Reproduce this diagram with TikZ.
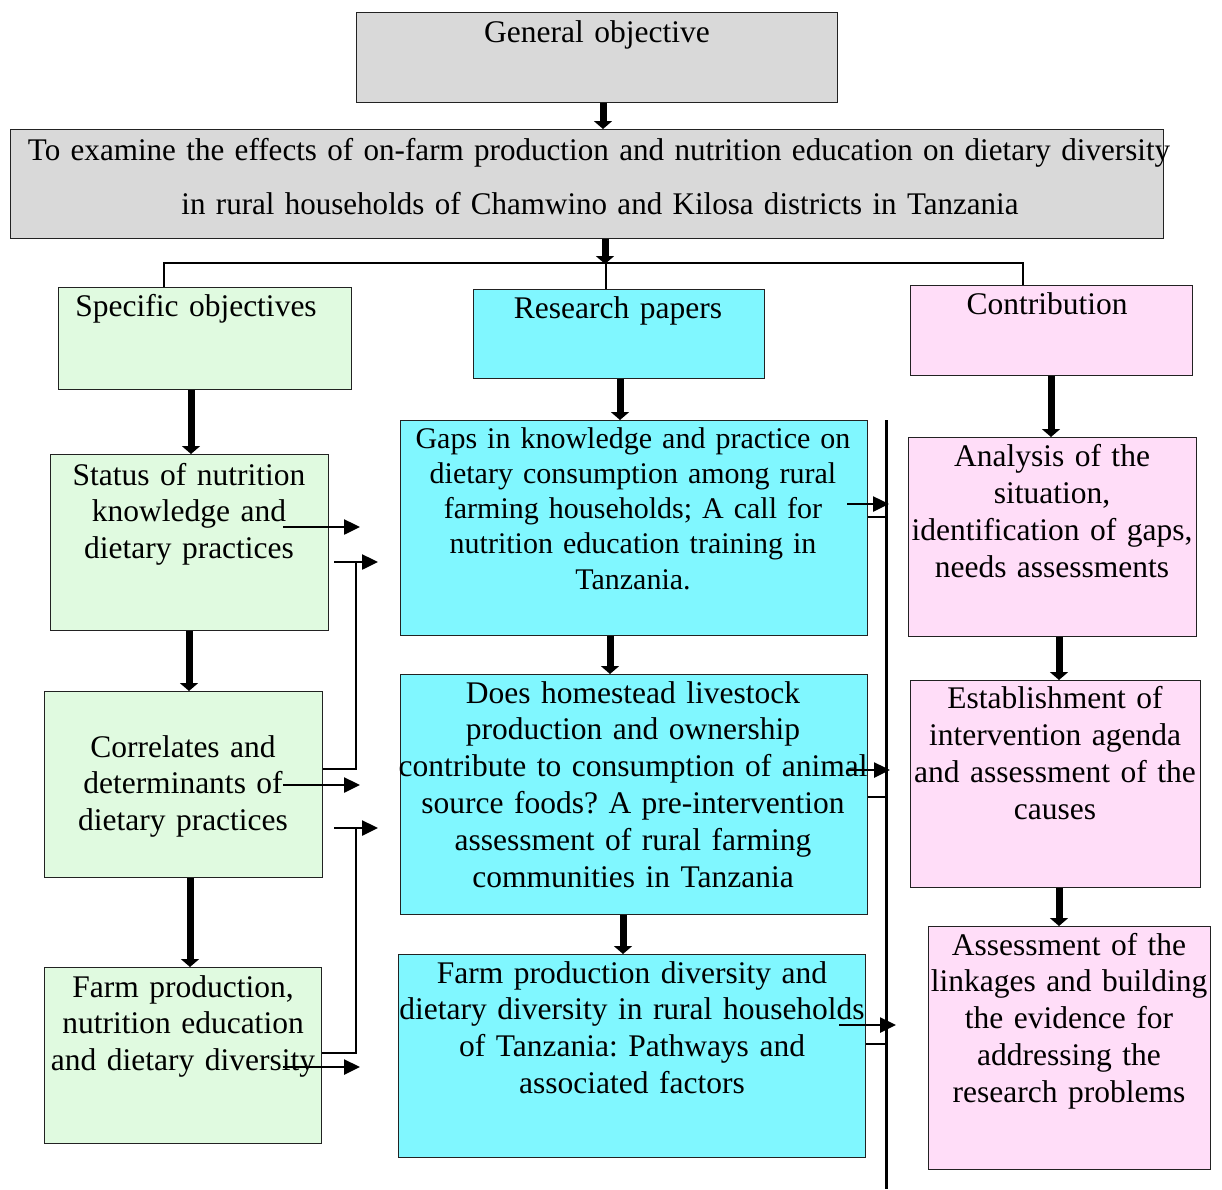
\documentclass[tikz,border=0pt]{standalone}
\usepackage{fontspec}
\setmainfont{Liberation Serif}
\usetikzlibrary{arrows.meta}
\definecolor{gfill}{HTML}{D9D9D9}
\definecolor{grfill}{HTML}{E0FAE0}
\definecolor{cyfill}{HTML}{80F7FF}
\definecolor{pkfill}{HTML}{FFDDF8}
\definecolor{bord}{HTML}{222222}
\frenchspacing
\tikzset{
  boxbase/.style={draw=bord, line width=1.2pt, inner sep=0pt, anchor=north west},
  graybox/.style={boxbase, fill=gfill},
  greenbox/.style={boxbase, fill=grfill},
  cyanbox/.style={boxbase, fill=cyfill},
  pinkbox/.style={boxbase, fill=pkfill},
  txt/.style={anchor=base, inner sep=0pt, text width=560pt, align=center,
    font=\fontsize{31.5}{36.5}\selectfont\frenchspacing},
  bigarrow/.style={line width=7pt, -{Triangle[length=8pt,width=18pt]}},
  thinarrow/.style={line width=2.5pt, -{Triangle[length=16pt,width=15pt]}},
  thinline/.style={line width=2.5pt},
}
\newcommand{\bx}[6]{\node[#1, minimum width=#4pt-#2pt, minimum height=#5pt-#3pt] (#6) at (#2,#3) {};}
\begin{document}
\begin{tikzpicture}[x=1pt,y=-1pt]
\useasboundingbox (0,0) rectangle (1222,1189);
% boxes
\bx{graybox}{356}{12}{837}{102}{gen}
\bx{graybox}{10}{129}{1163}{238}{aim}
\bx{greenbox}{58}{287}{351}{389}{spec}
\bx{cyanbox}{473}{289}{764}{378}{rp}
\bx{pinkbox}{910}{285}{1192}{375}{contr}
\bx{greenbox}{50}{454}{328}{630}{stat}
\bx{greenbox}{44}{691}{322}{877}{corr}
\bx{greenbox}{44}{967}{321}{1143}{farm}
\bx{cyanbox}{400}{420}{867}{635}{gaps}
\bx{cyanbox}{400}{674}{867}{914}{live}
\bx{cyanbox}{398}{954}{865}{1157}{fpd}
\bx{pinkbox}{908}{437}{1196}{636}{anal}
\bx{pinkbox}{910}{680}{1200}{887}{estab}
\bx{pinkbox}{928}{926}{1210}{1169}{assess}
% texts
\node[txt] (tgen) at (597,42) {General objective};
\node[txt, text width=1160pt] (taim1) at (599,160) {\resizebox{1142pt}{\height}{To examine the effects of on-farm production and nutrition education on dietary diversity}};
\node[txt, text width=1160pt] (taim2) at (600,214) {\resizebox{837pt}{\height}{in rural households of Chamwino and Kilosa districts in Tanzania}};
\node[txt] (tspec) at (196,316) {Specific objectives};
\node[txt] (trp) at (618,318) {Research papers};
\node[txt] (tcontr) at (1047,314) {Contribution};
\node[txt] (tstat) at (189,485) {Status of nutrition\\knowledge and\\dietary practices};
\node[txt] (tcorr) at (183,757) {Correlates and\\determinants of\\dietary practices};
\node[txt] (tfarm) at (183,997) {Farm production,\\nutrition education\\and dietary diversity};
\node[txt, font=\fontsize{30}{35.3}\selectfont\frenchspacing] (tgaps) at (633,448) {Gaps in knowledge and practice on\\dietary consumption among rural\\farming households; A call for\\nutrition education training in\\Tanzania.};
\node[txt, font=\fontsize{31.5}{36.8}\selectfont\frenchspacing] (tlive) at (633,703) {Does homestead livestock\\production and ownership\\contribute to consumption of animal\\source foods? A pre-intervention\\assessment of rural farming\\communities in Tanzania};
\node[txt, font=\fontsize{31.5}{36.7}\selectfont\frenchspacing] (tfpd) at (632,983) {Farm production diversity and\\dietary diversity in rural households\\of Tanzania: Pathways and\\associated factors};
\node[txt, font=\fontsize{31.5}{37}\selectfont\frenchspacing] (tanal) at (1052,466) {Analysis of the\\situation,\\identification of gaps,\\needs assessments};
\node[txt, font=\fontsize{31.5}{37}\selectfont\frenchspacing] (testab) at (1055,708) {Establishment of\\intervention agenda\\and assessment of the\\causes};
\node[txt, font=\fontsize{31.5}{36.8}\selectfont\frenchspacing] (tassess) at (1069,955) {Assessment of the\\linkages and building\\the evidence for\\addressing the\\research problems};
% thick arrows
\draw[bigarrow] (gen.south -| 603,0) -- (aim.north -| 603,0);
\draw[bigarrow] (aim.south -| 605,0) -- (605,264);
\draw[bigarrow] (spec.south -| 191,0) -- (stat.north -| 191,0);
\draw[bigarrow] (rp.south -| 620,0) -- (gaps.north -| 620,0);
\draw[bigarrow] (contr.south -| 1051,0) -- (anal.north -| 1051,0);
\draw[bigarrow] (stat.south -| 189,0) -- (corr.north -| 189,0);
\draw[bigarrow] (corr.south -| 190,0) -- (farm.north -| 190,0);
\draw[bigarrow] (gaps.south -| 610,0) -- (live.north -| 610,0);
\draw[bigarrow] (live.south -| 623,0) -- (fpd.north -| 623,0);
\draw[bigarrow] (anal.south -| 1059,0) -- (estab.north -| 1059,0);
\draw[bigarrow] (estab.south -| 1059,0) -- (assess.north -| 1059,0);
% branch
\draw[thinline] (spec.north -| 164,0) -- (164,263) -- (1023,263) -- (contr.north -| 1023,0);
\draw[thinline] (606,263) -- (rp.north -| 606,0);
% left connectors
\coordinate (l1) at (283,527); \coordinate (r1) at (360,527);
\draw[thinarrow] (l1) -- (r1);
\coordinate (l2) at (334,562); \coordinate (r2) at (378,562);
\draw[thinarrow] (l2) -- (r2);
\draw[thinline] (corr.east |- 0,769) -- (356,769) -- (356,562);
\coordinate (l3) at (283,785); \coordinate (r3) at (360,785);
\draw[thinarrow] (l3) -- (r3);
\coordinate (l4) at (334,828); \coordinate (r4) at (378,828);
\draw[thinarrow] (l4) -- (r4);
\draw[thinline] (farm.east |- 0,1053) -- (356,1053) -- (356,828);
\coordinate (l5) at (283,1067); \coordinate (r5) at (360,1067);
\draw[thinarrow] (l5) -- (r5);
% right side
\coordinate (vtop) at (886,420); \coordinate (vbot) at (886,1189);
\draw[line width=3pt] (vtop) -- (vbot);
\draw[thinarrow] (847,504) -- (889,504);
\draw[thinline] (gaps.east |- 0,517) -- (886,517);
\draw[thinarrow] (848,770) -- (890,770);
\draw[thinline] (live.east |- 0,797) -- (886,797);
\draw[thinarrow] (839,1025) -- (896,1025);
\draw[thinline] (fpd.east |- 0,1044) -- (886,1044);
\end{tikzpicture}
\end{document}
